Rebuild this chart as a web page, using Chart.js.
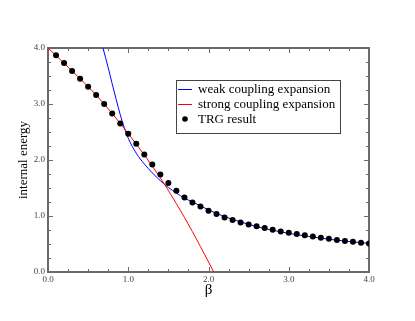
<!DOCTYPE html>
<html>
<head>
<meta charset="utf-8">
<script src="https://cdn.jsdelivr.net/npm/chart.js@4"></script>
<style>
  html, body { margin: 0; padding: 0; background: #fff; }
  #wrap { width: 415px; height: 321px; }
</style>
</head>
<body>
<div id="wrap"><canvas id="chart" width="415" height="321"></canvas></div>
<script>
// TRG data points
const trgBeta = [0.1, 0.2, 0.3, 0.4, 0.5, 0.6, 0.7, 0.8, 0.9, 1.0,
                 1.1, 1.2, 1.3, 1.4, 1.5, 1.6, 1.7, 1.8, 1.9, 2.0,
                 2.1, 2.2, 2.3, 2.4, 2.5, 2.6, 2.7, 2.8, 2.9, 3.0,
                 3.1, 3.2, 3.3, 3.4, 3.5, 3.6, 3.7, 3.8, 3.9, 4.0];
const trgEnergy = [3.87, 3.73, 3.59, 3.45, 3.31, 3.16, 3.00, 2.83, 2.65, 2.47,
                   2.29, 2.10, 1.92, 1.74, 1.59, 1.45, 1.33, 1.24, 1.17, 1.095,
                   1.035, 0.975, 0.93, 0.886, 0.85, 0.815, 0.785, 0.755, 0.725, 0.70,
                   0.678, 0.655, 0.632, 0.612, 0.592, 0.573, 0.555, 0.54, 0.524, 0.51];

// weak coupling expansion curve
const weakBeta = [0.685, 0.75, 0.8, 0.85, 0.9, 0.95, 1.0, 1.1, 1.2, 1.3, 1.4, 1.5, 1.6, 1.7,
                  1.8, 1.9, 2.0, 2.2, 2.4, 2.6, 2.8, 3.0, 3.25, 3.5, 3.75, 4.0];
const weakEnergy = [4.0, 3.65, 3.36, 3.08, 2.81, 2.58, 2.39, 2.12, 1.93, 1.77, 1.63, 1.51, 1.41, 1.32,
                    1.25, 1.18, 1.11, 0.99, 0.895, 0.81, 0.745, 0.69, 0.635, 0.585, 0.545, 0.51];

// strong coupling expansion curve
const strongBeta = [0.0, 0.2, 0.4, 0.6, 0.8, 1.0, 1.2, 1.4, 1.6, 1.8, 2.0, 2.065];
const strongEnergy = [4.0, 3.73, 3.45, 3.16, 2.83, 2.47, 2.09, 1.68, 1.22, 0.72, 0.18, 0.0];

const seriesLabels = ['weak coupling expansion', 'strong coupling expansion', 'TRG result'];
const tickValues = [0, 1, 2, 3, 4];

const SERIF = '"Liberation Serif", "Times New Roman", serif';

const toPoints = (xs, ys) => xs.map((x, i) => ({ x: x, y: ys[i] }));

// frame + inward ticks on all four sides, xmgrace style
const framePlugin = {
    id: 'frame',
    beforeDatasetsDraw(chart) {
        const { ctx, chartArea: a, scales } = chart;
        ctx.save();
        ctx.strokeStyle = '#6a6a6a';
        ctx.lineWidth = 1;
        scales.x.ticks.forEach(t => {
            const px = Math.round(scales.x.getPixelForValue(t.value)) + 0.5;
            const len = Number.isInteger(t.value) ? 5 : 3;
            ctx.beginPath();
            ctx.moveTo(px, a.bottom); ctx.lineTo(px, a.bottom - len);
            ctx.moveTo(px, a.top); ctx.lineTo(px, a.top + len);
            ctx.stroke();
        });
        scales.y.ticks.forEach(t => {
            const py = Math.round(scales.y.getPixelForValue(t.value)) + 0.5;
            const len = Number.isInteger(t.value) ? 5 : 3;
            ctx.beginPath();
            ctx.moveTo(a.left, py); ctx.lineTo(a.left + len, py);
            ctx.moveTo(a.right, py); ctx.lineTo(a.right - len, py);
            ctx.stroke();
        });
        ctx.lineWidth = 2;
        ctx.strokeRect(a.left, a.top, a.right - a.left, a.bottom - a.top);
        ctx.restore();
    },
    afterDraw(chart) {
        // legend box
        const { ctx } = chart;
        const box = { x: 176, y: 80, w: 164, h: 53 };
        const rows = [89, 104, 119];
        ctx.save();
        ctx.fillStyle = '#fff';
        ctx.fillRect(box.x, box.y, box.w, box.h);
        ctx.strokeStyle = '#444';
        ctx.lineWidth = 1;
        ctx.strokeRect(box.x + 0.5, box.y + 0.5, box.w, box.h);
        ctx.font = '13px ' + SERIF;
        ctx.textBaseline = 'middle';
        chart.data.datasets.forEach((ds, i) => {
            const y = rows[i];
            if (ds.showLine) {
                ctx.strokeStyle = ds.borderColor;
                ctx.lineWidth = 1;
                ctx.beginPath();
                ctx.moveTo(178, y + 0.5); ctx.lineTo(192, y + 0.5);
                ctx.stroke();
            } else {
                ctx.fillStyle = ds.backgroundColor;
                ctx.beginPath();
                ctx.arc(185, y, 2.8, 0, Math.PI * 2);
                ctx.fill();
            }
            ctx.fillStyle = '#000';
            ctx.fillText(ds.label, 198, y + 1);
        });
        ctx.restore();
    }
};

const ctx = document.getElementById('chart').getContext('2d');
new Chart(ctx, {
    type: 'scatter',
    data: {
        datasets: [
            {
                label: seriesLabels[0],
                data: toPoints(weakBeta, weakEnergy),
                showLine: true,
                borderColor: '#0000ff',
                borderWidth: 1,
                pointRadius: 0,
                cubicInterpolationMode: 'monotone',
                order: 2
            },
            {
                label: seriesLabels[1],
                data: toPoints(strongBeta, strongEnergy),
                showLine: true,
                borderColor: '#ff0000',
                borderWidth: 1,
                pointRadius: 0,
                cubicInterpolationMode: 'monotone',
                order: 1
            },
            {
                label: seriesLabels[2],
                data: toPoints(trgBeta, trgEnergy),
                showLine: false,
                backgroundColor: '#000',
                borderWidth: 0,
                pointRadius: 3,
                order: 0
            }
        ]
    },
    options: {
        responsive: false,
        animation: false,
        layout: { padding: { left: 0, top: 48, right: 46, bottom: 0 } },
        plugins: {
            legend: { display: false },
            tooltip: { enabled: false }
        },
        scales: {
            x: {
                type: 'linear',
                min: 0,
                max: 4,
                afterFit: s => { s.height = 49; },
                grid: { display: false, drawTicks: false },
                border: { display: false },
                ticks: {
                    stepSize: 0.25,
                    autoSkip: false,
                    maxRotation: 0,
                    padding: 2,
                    color: '#444',
                    font: { family: SERIF, size: 9 },
                    callback: v => tickValues.includes(v) ? v.toFixed(1) : ''
                },
                title: {
                    display: true,
                    text: 'β',
                    color: '#000',
                    font: { family: SERIF, size: 15 },
                    padding: { top: 0, bottom: 22 }
                }
            },
            y: {
                type: 'linear',
                min: 0,
                max: 4,
                afterFit: s => { s.width = 48; },
                grid: { display: false, drawTicks: false },
                border: { display: false },
                ticks: {
                    stepSize: 0.25,
                    autoSkip: false,
                    padding: 3,
                    color: '#444',
                    font: { family: SERIF, size: 9 },
                    callback: v => tickValues.includes(v) ? v.toFixed(1) : ''
                },
                title: {
                    display: true,
                    text: 'internal energy',
                    color: '#000',
                    font: { family: SERIF, size: 13 },
                    padding: { top: 16, bottom: 0 }
                }
            }
        }
    },
    plugins: [framePlugin]
});
</script>
</body>
</html>
